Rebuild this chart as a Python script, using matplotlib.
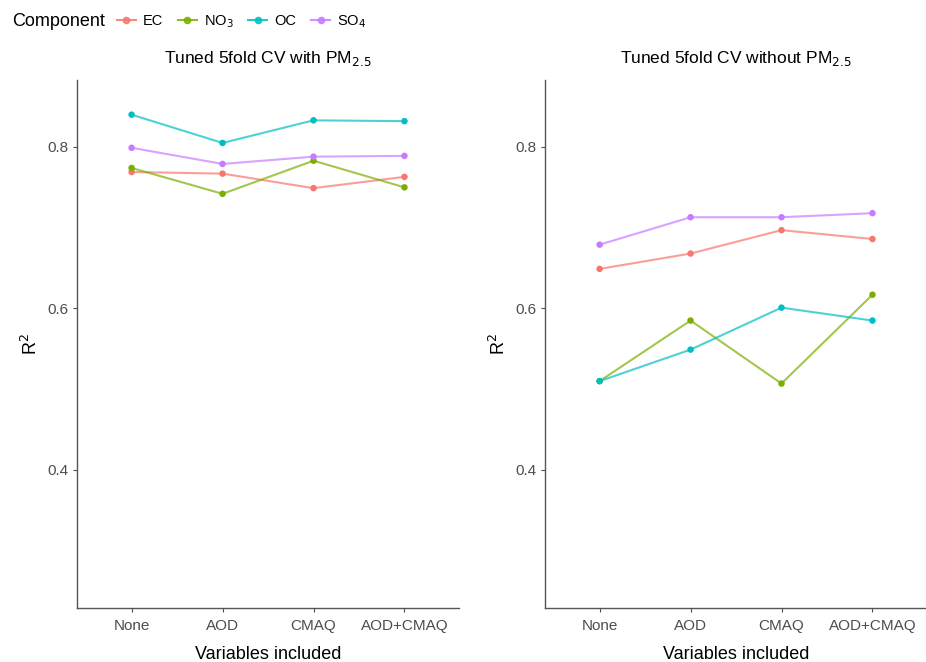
import matplotlib.pyplot as plt
from matplotlib.lines import Line2D

plt.rcParams['font.family'] = ['Liberation Sans', 'DejaVu Sans']

# ---- data ----
variables = ["None", "AOD", "CMAQ", "AOD+CMAQ"]
components = ["EC", "NO3", "OC", "SO4"]
comp_labels = ["EC", "NO$_3$", "OC", "SO$_4$"]
colors = ["#F8766D", "#7CAE00", "#00BFC4", "#C77CFF"]

# R2 with PM2.5
with_ec = [0.769, 0.767, 0.749, 0.763]
with_no3 = [0.774, 0.742, 0.783, 0.750]
with_oc = [0.840, 0.805, 0.833, 0.832]
with_so4 = [0.799, 0.779, 0.788, 0.789]

# R2 without PM2.5
without_ec = [0.649, 0.668, 0.697, 0.686]
without_no3 = [0.510, 0.585, 0.507, 0.617]
without_oc = [0.510, 0.549, 0.601, 0.585]
without_so4 = [0.679, 0.713, 0.713, 0.718]

panels = [
    ("Tuned 5fold CV with PM$_{2.5}$", [with_ec, with_no3, with_oc, with_so4]),
    ("Tuned 5fold CV without PM$_{2.5}$", [without_ec, without_no3, without_oc, without_so4]),
]

fig = plt.figure(figsize=(9.26, 6.62), dpi=100)
ax_pos = [[0.0832, 0.0816, 0.4125, 0.7976], [0.5886, 0.0816, 0.4125, 0.7976]]

x = list(range(1, len(variables) + 1))
for pos, (title, series) in zip(ax_pos, panels):
    ax = fig.add_axes(pos)
    for vals, c in zip(series, colors):
        ax.plot(x, vals, color=c, lw=1.5, alpha=0.7, zorder=2)
        ax.scatter(x, vals, color=c, s=22, zorder=3, edgecolors="none")
    ax.set_xlim(0.4, 4.6)
    ax.set_ylim(0.229, 0.883)
    ax.set_xticks(x)
    ax.set_xticklabels(variables)
    ax.set_yticks([0.4, 0.6, 0.8])
    ax.set_yticklabels(["0.4", "0.6", "0.8"])
    ax.tick_params(labelsize=11, colors="#4D4D4D", length=3, width=0.8, labelcolor="#4D4D4D")
    ax.tick_params(axis="x", pad=5)
    for s in ["top", "right"]:
        ax.spines[s].set_visible(False)
    for s in ["left", "bottom"]:
        ax.spines[s].set_color("#555555")
        ax.spines[s].set_linewidth(1.0)
    ax.set_title(title, fontsize=12.5, pad=12)
    ax.set_xlabel("Variables included", fontsize=13, labelpad=9)
    ax.set_ylabel("R$^2$", fontsize=13, labelpad=4)

# legend across the top
fig.text(0.013, 0.968, "Component", fontsize=13, va="center", ha="left")
handles = [Line2D([0], [0], color=c, lw=1.5, marker="o", markersize=4.5, alpha=0.85)
           for c in colors]
fig.legend(handles, comp_labels, loc="center left", bbox_to_anchor=(0.126, 0.968),
           ncol=4, frameon=False, fontsize=10.5, handlelength=1.3, handletextpad=0.5,
           columnspacing=1.0, borderpad=0, borderaxespad=0)

fig.savefig("out.png", dpi=100)
